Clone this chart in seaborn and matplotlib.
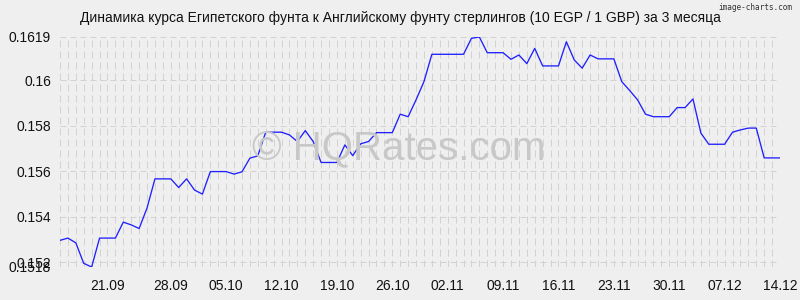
import matplotlib
matplotlib.use("Agg")
import matplotlib.pyplot as plt
from matplotlib.ticker import FixedLocator, MultipleLocator
import numpy as np
import pandas as pd
import seaborn as sns

# ---------------- data ----------------
title = "Динамика курса Египетского фунта к Английскому фунту стерлингов (10 EGP / 1 GBP) за 3 месяца"
start_date = "2025-09-14"

rates = [
    0.15297, 0.15307, 0.15286, 0.15196, 0.15180, 0.15307, 0.15307, 0.15307,
    0.15377, 0.15365, 0.15349, 0.15439, 0.15567, 0.15567, 0.15567, 0.15529,
    0.15567, 0.15518, 0.15500, 0.15599, 0.15599, 0.15599, 0.15588, 0.15598,
    0.15658, 0.15668, 0.15772, 0.15772, 0.15772, 0.15760, 0.15731, 0.15779,
    0.15731, 0.15639, 0.15639, 0.15639, 0.15716, 0.15669, 0.15721, 0.15731,
    0.15770, 0.15770, 0.15770, 0.15851, 0.15840, 0.15914, 0.15994, 0.16114,
    0.16114, 0.16114, 0.16114, 0.16114, 0.16184, 0.16190, 0.16121, 0.16121,
    0.16121, 0.16092, 0.16111, 0.16073, 0.16140, 0.16063, 0.16063, 0.16063,
    0.16169, 0.16089, 0.16053, 0.16111, 0.16094, 0.16094, 0.16094, 0.15994,
    0.15955, 0.15914, 0.15851, 0.15840, 0.15840, 0.15840, 0.15880, 0.15880,
    0.15918, 0.15768, 0.15719, 0.15719, 0.15719, 0.15772, 0.15782, 0.15790,
    0.15790, 0.15659, 0.15659, 0.15659,
]

x_tick_labels = ["21.09", "28.09", "05.10", "12.10", "19.10", "26.10", "02.11",
                 "09.11", "16.11", "23.11", "30.11", "07.12", "14.12"]
x_tick_days = [6, 14, 21, 28, 35, 42, 49, 56, 63, 70, 77, 84, 91]

y_ticks = [0.1518, 0.152, 0.154, 0.156, 0.158, 0.16, 0.1619]
y_tick_labels = ["0.1518", "0.152", "0.154", "0.156", "0.158", "0.16", "0.1619"]

watermark = "© HQRates.com"
credit = "image-charts.com"

# ---------------- build table ----------------
df = pd.DataFrame({
    "day": np.arange(len(rates)),
    "date": pd.date_range(start_date, periods=len(rates), freq="D"),
    "rate": rates,
})

# ---------------- style ----------------
sns.set_style("white")
plt.rcParams["font.family"] = ["Liberation Sans", "DejaVu Sans"]
BG = "#efefef"
GRID = "#d2d2d2"

fig = plt.figure(figsize=(8, 3), dpi=100, facecolor=BG)
ax = fig.add_axes([0.075, 0.11, 0.9, 0.7667], facecolor=BG)

# watermark behind the line
fig.text(0.499, 1 - 149 / 300, watermark, ha="center", va="center",
         fontsize=29, color="#c8c8c8", zorder=0)
ax.patch.set_alpha(0)

sns.lineplot(data=df, x="day", y="rate", ax=ax, color="#2020ff",
             linewidth=0.95, zorder=3)

ax.set_xlim(0, len(rates) - 1)
ax.set_ylim(min(y_ticks), max(y_ticks))

ax.xaxis.set_major_locator(FixedLocator(x_tick_days))
ax.set_xticklabels(x_tick_labels)
ax.xaxis.set_minor_locator(MultipleLocator(1))
ax.set_yticks(y_ticks)
ax.set_yticklabels(y_tick_labels)

for s in ax.spines.values():
    s.set_visible(False)

ax.grid(False)
ax.grid(which="minor", axis="x", color=GRID, linestyle=(0, (7, 4)), linewidth=0.72, zorder=0)
ax.grid(which="major", axis="x", color=GRID, linestyle=(0, (7, 4)), linewidth=0.72, zorder=0)
ax.grid(which="major", axis="y", color=GRID, linestyle=(0, (6, 4)), linewidth=0.72, zorder=0)

ax.tick_params(axis="x", which="both", length=5.8, width=0.72, color=GRID,
               pad=3, labelsize=10, labelcolor="#111111")
ax.tick_params(axis="y", which="major", length=4, width=0.72, color="#bbbbbb",
               pad=2.5, labelsize=10, labelcolor="#111111")
ax.tick_params(axis="y", which="minor", length=0)

ax.set_xlabel("")
ax.set_ylabel("")

fig.text(0.5, 1 - 18 / 300, title, ha="center", va="center", fontsize=10, color="#111111")
fig.text(0.991, 1 - 7 / 300, credit, ha="right", va="center", fontsize=5.6,
         family="DejaVu Sans Mono", color="#333333")

fig.savefig("out.png", dpi=100, facecolor=BG)
